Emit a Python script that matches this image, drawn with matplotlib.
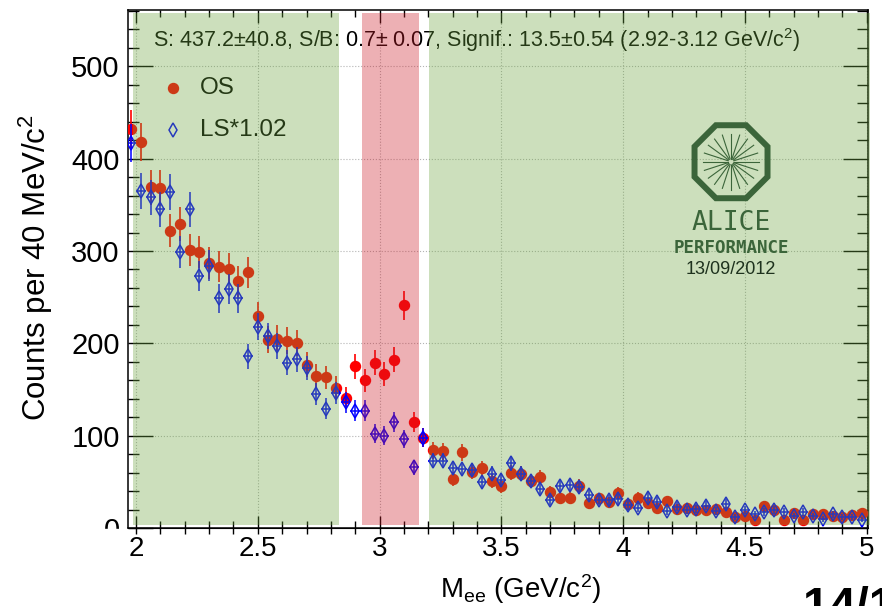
import numpy as np
import matplotlib.pyplot as plt
from matplotlib.patches import RegularPolygon, Rectangle
from matplotlib.transforms import Affine2D, ScaledTranslation
from matplotlib.ticker import MultipleLocator, FormatStrFormatter

# bin centres of the 40 MeV/c^2 bins (GeV/c^2)
mass = np.round(np.arange(1.98, 5.0, 0.04), 2)

# opposite-sign pairs
os_counts = np.array([
    432, 418, 369, 368, 322, 329, 301, 299, 287, 283,
    281, 267, 277, 230, 204, 205, 203, 200, 177, 165,
    163, 152, 141, 175, 160, 179, 167, 182, 241, 115,
    98, 84, 83, 53, 82, 61, 65, 51, 45, 60,
    59, 51, 55, 39, 32, 33, 46, 27, 32, 28,
    38, 26, 33, 27, 22, 29, 21, 22, 20, 19,
    21, 17, 12, 13, 9, 24, 19, 9, 16, 9,
    15, 15, 13, 12, 14, 16])

# like-sign pairs, scaled by 1.02
ls_counts = np.array([
    417, 365, 358, 345, 364, 299, 345, 273, 284, 249,
    259, 249, 186, 218, 208, 197, 179, 183, 173, 145,
    129, 146, 136, 127, 127, 102, 100, 115, 96, 66,
    98, 73, 73, 65, 64, 63, 50, 59, 52, 70,
    59, 51, 42, 30, 46, 47, 44, 36, 30, 30,
    31, 25, 22, 33, 28, 18, 23, 19, 21, 24,
    18, 26, 12, 19, 15, 17, 19, 17, 13, 17,
    13, 10, 15, 12, 12, 9])

stats_text = "S: 437.2\u00b140.8, S/B: 0.7\u00b1 0.07, Signif.: 13.5\u00b10.54 (2.92-3.12 GeV/c$^2$)"

plt.rcParams['font.family'] = ['Liberation Sans', 'DejaVu Sans']
plt.rcParams['mathtext.fontset'] = 'custom'
plt.rcParams['mathtext.rm'] = 'Liberation Sans'
plt.rcParams['mathtext.it'] = 'Liberation Sans:italic'
plt.rcParams['mathtext.default'] = 'regular'

fig = plt.figure(figsize=(8.82, 6.06), dpi=100)
ax = fig.add_axes([128/882, 1-528/606, 740/882, 518/606])

ax.errorbar(mass, os_counts, yerr=np.sqrt(os_counts), xerr=0.02, fmt='o',
            color='red', ms=7.2, elinewidth=1.2, capsize=0, zorder=3)
ax.errorbar(mass, ls_counts, yerr=np.sqrt(ls_counts), xerr=0.02, fmt='d',
            color='blue', mfc='none', ms=6.8, mew=1.1, elinewidth=1.1, capsize=0, zorder=4)

ax.set_xlim(1.967, 5.005)
ax.set_ylim(0, 561)

# mass windows drawn on top, semi-transparent
green = (109/255, 166/255, 64/255)
pink = (204/255, 29/255, 41/255)
band_kw = dict(ymin=0.006, ymax=0.994, lw=0, alpha=0.35, zorder=10)
ax.axvspan(1.988, 2.835, color=green, **band_kw)
ax.axvspan(2.927, 3.163, color=pink, **band_kw)
ax.axvspan(3.203, 5.013, color=green, clip_on=False, **band_kw)

ax.grid(True, linestyle=':', color='#b4b4b4', linewidth=0.8)
ax.xaxis.set_major_locator(MultipleLocator(0.5))
ax.xaxis.set_minor_locator(MultipleLocator(0.1))
ax.xaxis.set_major_formatter(FormatStrFormatter('%g'))
ax.yaxis.set_major_locator(MultipleLocator(100))
ax.yaxis.set_minor_locator(MultipleLocator(20))
ax.tick_params(axis='y', which='major', direction='in', length=18, width=1,
               left=True, right=True, labelsize=21, pad=6)
ax.tick_params(axis='y', which='minor', direction='in', length=8, width=1, left=True, right=True)
ax.tick_params(axis='x', which='major', direction='in', length=9, width=1,
               top=True, bottom=True, labelsize=20, pad=6)
ax.tick_params(axis='x', which='minor', direction='in', length=5, width=1, top=True, bottom=True)
for s in ax.spines.values():
    s.set_linewidth(1.1)

sec = ax.secondary_xaxis('bottom')
sec.xaxis.set_major_locator(MultipleLocator(0.5))
sec.xaxis.set_minor_locator(MultipleLocator(0.1))
sec.tick_params(which='both', direction='out', length=4, width=1, labelbottom=False)

ax.set_ylabel('Counts per 40 MeV/c$^2$', fontsize=22.5)
ax.yaxis.set_label_coords(-0.098, 0.503)
ax.set_xlabel('M$_{ee}$ (GeV/c$^2$)', fontsize=20)
ax.xaxis.set_label_coords(0.53, -0.085)

ax.text(0.034, 0.942, stats_text, fontsize=15.5, va='center', transform=ax.transAxes, zorder=5)

# legend
ax.plot([0.0604], [0.8485], 'o', color='red', ms=7.2, transform=ax.transAxes, zorder=5)
ax.text(0.0973, 0.8485, 'OS', fontsize=17.5, va='center', transform=ax.transAxes, zorder=5)
ax.plot([0.0604], [0.7674], 'd', color='blue', mfc='none', ms=6.8, mew=1.1,
        transform=ax.transAxes, zorder=5)
ax.text(0.0973, 0.7674, 'LS*1.02', fontsize=17.5, va='center', transform=ax.transAxes, zorder=5)

# ALICE performance logo (pixel units around its centre)
logo_tr = Affine2D() + ScaledTranslation(0.8149, 0.7071, ax.transAxes)
logo_col = '#3b653a'
ax.add_patch(RegularPolygon((0, 0), numVertices=8, radius=39.5, orientation=np.pi/8,
                            fill=False, lw=4.3, edgecolor=logo_col, transform=logo_tr,
                            zorder=11, clip_on=False))
for a in np.linspace(0, 2*np.pi, 20, endpoint=False):
    ax.plot([3*np.cos(a), 28*np.cos(a)], [3*np.sin(a), 28*np.sin(a)], color=logo_col,
            lw=0.8, transform=logo_tr, zorder=11, clip_on=False)
ax.text(0, -61, 'ALICE', transform=logo_tr, ha='center', va='center',
        family='DejaVu Sans Mono', fontsize=19, color=logo_col, zorder=11)
ax.text(0, -86, 'PERFORMANCE', transform=logo_tr, ha='center', va='center',
        family='DejaVu Sans Mono', fontsize=12.6, weight='bold', color=logo_col, zorder=11)
ax.text(0, -108, '13/09/2012', transform=logo_tr, ha='center', va='center',
        fontsize=13, color='#1e321e', zorder=11)

# the zero label is cut by the axis strip in the slide
fig.add_artist(Rectangle((95/882, 1-545/606), 32/882, 16/606, transform=fig.transFigure,
                         color='white', zorder=5))

fig.text(803/882, 1-586/606, '14/1', fontsize=34, weight='bold', family='Liberation Sans',
         va='top', ha='left')

fig.savefig('out.png', dpi=100)
